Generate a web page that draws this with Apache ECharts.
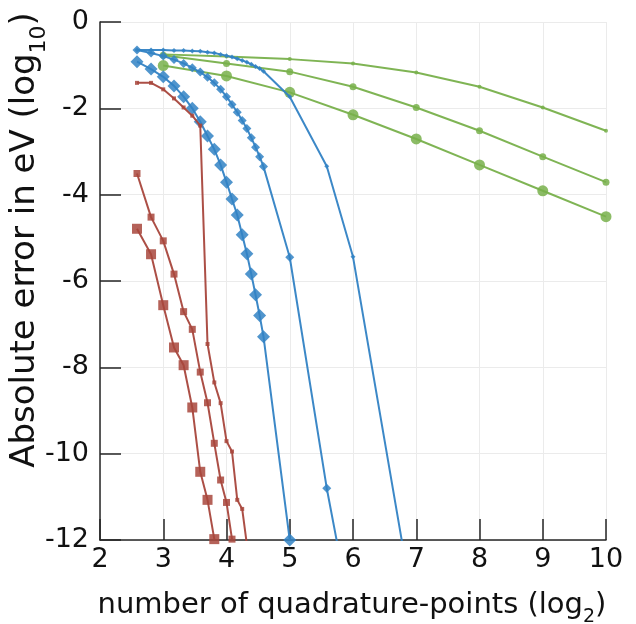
<!DOCTYPE html>
<html>
<head>
<meta charset="utf-8">
<script src="https://cdn.jsdelivr.net/npm/echarts@6/dist/echarts.min.js"></script>
<style>
html,body{margin:0;padding:0;background:#fff;}
#chart{width:636px;height:624px;}
</style>
</head>
<body>
<div id="chart"></div>
<script>
// x positions (log2 of number of quadrature points)
const xFine = [2.585, 2.807, 3, 3.17, 3.322, 3.459, 3.585, 3.7, 3.807, 3.907, 4, 4.087, 4.17, 4.248, 4.322, 4.392, 4.459, 4.524, 4.585];
const xBlueLarge = xFine.concat([5]);
const xBlueMed = xFine.concat([5, 5.585, 6]);
const xBlueSmall = xFine.concat([5, 5.585, 6, 7]);
const xRedSmall = xFine.slice(0, 15);
const xRedMed = xFine.slice(0, 12);
const xRedLarge = xFine.slice(0, 9);
const xGreen = [3, 4, 5, 6, 7, 8, 9, 10];

// errors (log10 eV)
const yBlueLarge = [-0.92, -1.09, -1.27, -1.48, -1.73, -2.0, -2.31, -2.64, -2.95, -3.31, -3.71, -4.10, -4.47, -4.93, -5.37, -5.84, -6.32, -6.80, -7.29, -12];
const yBlueMed = [-0.65, -0.72, -0.79, -0.87, -0.96, -1.06, -1.16, -1.28, -1.41, -1.56, -1.73, -1.91, -2.09, -2.28, -2.47, -2.68, -2.90, -3.12, -3.35, -5.45, -10.8, -14.0];
const yBlueSmall = [-0.65, -0.65, -0.65, -0.66, -0.66, -0.67, -0.68, -0.70, -0.72, -0.75, -0.78, -0.81, -0.85, -0.89, -0.93, -0.98, -1.03, -1.08, -1.14, -1.73, -3.34, -5.44, -13.96];
const yRedSmall = [-1.41, -1.41, -1.56, -1.77, -1.98, -2.17, -2.40, -7.46, -8.35, -8.83, -9.71, -9.95, -11.07, -11.28, -12.1];
const yRedMed = [-3.51, -4.52, -5.07, -5.84, -6.71, -7.12, -8.11, -8.82, -9.76, -10.61, -11.13, -11.98];
const yRedLarge = [-4.79, -5.38, -6.56, -7.54, -7.95, -8.93, -10.42, -11.07, -11.98];
const yGreenSmall = [-0.75, -0.80, -0.86, -0.96, -1.17, -1.50, -1.98, -2.52];
const yGreenMed = [-0.77, -0.96, -1.15, -1.50, -1.98, -2.52, -3.12, -3.71];
const yGreenLarge = [-1.01, -1.25, -1.63, -2.15, -2.71, -3.31, -3.91, -4.51];

const xTicks = [2, 3, 4, 5, 6, 7, 8, 9, 10];
const yTicks = [0, -2, -4, -6, -8, -10, -12];

const BLUE = '#3182c4', GREEN = '#78b04b', RED = '#a8463c';
const FONT = 'DejaVu Sans';

function mk(xs, ys, color, symbol, size, z) {
  return {
    type: 'line',
    data: xs.map((x, i) => [x, ys[i]]),
    symbol: symbol,
    symbolSize: size,
    showSymbol: true,
    clip: true,
    z: z,
    lineStyle: { width: 2, color: color, opacity: 0.95 },
    itemStyle: { color: color, opacity: 0.85 },
    emphasis: { disabled: true },
    animation: false
  };
}

const chart = echarts.init(document.getElementById('chart'), null, { renderer: 'canvas' });
const axisCol = '#262626';
chart.setOption({
  backgroundColor: '#fff',
  animation: false,
  grid: { left: 100, right: 30, top: 22, bottom: 84 },
  xAxis: {
    type: 'value', min: xTicks[0], max: xTicks[xTicks.length - 1], interval: 1,
    axisLine: { show: true, onZero: false, lineStyle: { color: axisCol, width: 1.5 } },
    axisTick: { show: true, inside: true, length: 21, lineStyle: { color: axisCol, width: 1.5 } },
    splitLine: { show: true, lineStyle: { color: '#ebebeb', width: 1 } },
    axisLabel: { fontSize: 27, color: '#111', margin: 6, fontFamily: FONT }
  },
  yAxis: {
    type: 'value', min: yTicks[yTicks.length - 1], max: yTicks[0], interval: 2,
    axisLine: { show: true, onZero: false, lineStyle: { color: axisCol, width: 1.5 } },
    axisTick: { show: true, inside: true, length: 21, lineStyle: { color: axisCol, width: 1.5 } },
    splitLine: { show: true, lineStyle: { color: '#ebebeb', width: 1 } },
    axisLabel: { fontSize: 27, color: '#111', margin: 11, fontFamily: FONT }
  },
  graphic: [
    {
      type: 'text', x: 352, y: 608, z: 100,
      style: {
        text: '{a|number of quadrature-points (log}{s|2}{a|)}',
        align: 'center', verticalAlign: 'middle',
        rich: {
          a: { fontSize: 29, fontFamily: FONT, fill: '#111', lineHeight: 34, verticalAlign: 'top' },
          s: { fontSize: 19, fontFamily: FONT, fill: '#111', lineHeight: 19, padding: [17, 0, 0, 0], verticalAlign: 'top' }
        }
      }
    },
    {
      type: 'text', x: 28, y: 240, rotation: Math.PI / 2, z: 100,
      style: {
        text: '{a|Absolute error in eV (log}{s|10}{a|)}',
        align: 'center', verticalAlign: 'middle',
        rich: {
          a: { fontSize: 34, fontFamily: FONT, fill: '#111', lineHeight: 39, verticalAlign: 'top' },
          s: { fontSize: 22, fontFamily: FONT, fill: '#111', lineHeight: 22, padding: [20, 0, 0, 0], verticalAlign: 'top' }
        }
      }
    }
  ],
  series: [
    mk(xGreen, yGreenSmall, GREEN, 'circle', 4, 2),
    mk(xGreen, yGreenMed, GREEN, 'circle', 7, 2),
    mk(xGreen, yGreenLarge, GREEN, 'circle', 11, 2),
    mk(xBlueSmall, yBlueSmall, BLUE, 'diamond', 5, 3),
    mk(xBlueMed, yBlueMed, BLUE, 'diamond', 9, 3),
    mk(xBlueLarge, yBlueLarge, BLUE, 'diamond', 13, 3),
    mk(xRedSmall, yRedSmall, RED, 'rect', 4, 4),
    mk(xRedMed, yRedMed, RED, 'rect', 7, 4),
    mk(xRedLarge, yRedLarge, RED, 'rect', 10, 4)
  ]
});
</script>
</body>
</html>
